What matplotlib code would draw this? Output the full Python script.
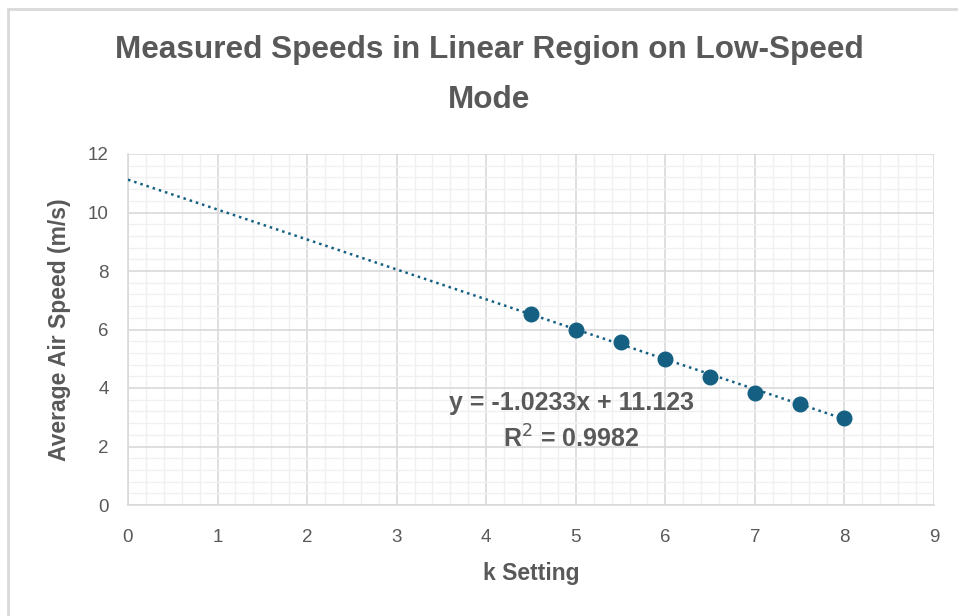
import numpy as np
import matplotlib.pyplot as plt
from matplotlib.ticker import MultipleLocator
from matplotlib.patches import Rectangle

# k setting vs measured average air speed
k_setting = [4.5, 5.0, 5.5, 6.0, 6.5, 7.0, 7.5, 8.0]
air_speed = [6.52, 5.98, 5.56, 4.98, 4.37, 3.84, 3.45, 2.97]

# linear trendline from the fit
slope = -1.0233
intercept = 11.123
r_squared = 0.9982

blue = '#156082'
grey_txt = '#595959'

fig = plt.figure(figsize=(9.58, 6.16), dpi=100)
ax = fig.add_axes([128/958, 1-505/616, (934-128)/958, (505-154)/616])

# gridlines
ax.set_xlim(0, 9)
ax.set_ylim(0, 12)
ax.xaxis.set_major_locator(MultipleLocator(1))
ax.xaxis.set_minor_locator(MultipleLocator(0.2))
ax.yaxis.set_major_locator(MultipleLocator(2))
ax.yaxis.set_minor_locator(MultipleLocator(0.4))
ax.grid(which='major', color='#d9d9d9', lw=1.2)
ax.grid(which='minor', color='#f0f0f0', lw=1.0)
ax.set_axisbelow(True)
for s in ['top', 'right']:
    ax.spines[s].set_visible(False)
for s in ['left', 'bottom']:
    ax.spines[s].set_color('#d9d9d9')
    ax.spines[s].set_linewidth(1.2)
ax.tick_params(which='both', length=0)
ax.tick_params(axis='x', pad=17)
ax.tick_params(axis='y', pad=14)
for lab in ax.get_xticklabels() + ax.get_yticklabels():
    lab.set_fontsize(13.5)
    lab.set_color(grey_txt)
    lab.set_family('Liberation Sans')

# trendline
xfit = np.array([0, max(k_setting)])
yfit = slope * xfit + intercept
ax.plot(xfit, yfit, color=blue, lw=1.8, ls=(0, (1, 1.6)), zorder=3)

# measured points
ax.plot(k_setting, air_speed, 'o', color=blue, ms=10.5, zorder=4)

ax.text(4.95, 3.5, f'y = {slope}x + {intercept}', ha='center', va='center',
        fontsize=18, fontweight='bold', color=grey_txt, family='Liberation Sans')
ax.text(4.95, 2.27, f'R$^2$ = {r_squared}', ha='center', va='center',
        fontsize=18, fontweight='bold', color=grey_txt, family='Liberation Sans')

ax.set_xlabel('k Setting', fontsize=16.5, fontweight='bold', color=grey_txt,
              family='Liberation Sans', labelpad=12)
ax.set_ylabel('Average Air Speed (m/s)', fontsize=16.5, fontweight='bold',
              color=grey_txt, family='Liberation Sans', labelpad=12)

fig.text(489/958, 1-75/616, 'Measured Speeds in Linear Region on Low-Speed\nMode',
         ha='center', va='center', fontsize=22.7, fontweight='bold', color=grey_txt,
         family='Liberation Sans', linespacing=1.85)

# chart frame
fig.add_artist(Rectangle((8/958, -0.1), 1.2, 1 - 9/616 + 0.1,
                         transform=fig.transFigure, fill=False,
                         edgecolor='#d9d9d9', lw=2))

fig.savefig('out.png', dpi=100)
